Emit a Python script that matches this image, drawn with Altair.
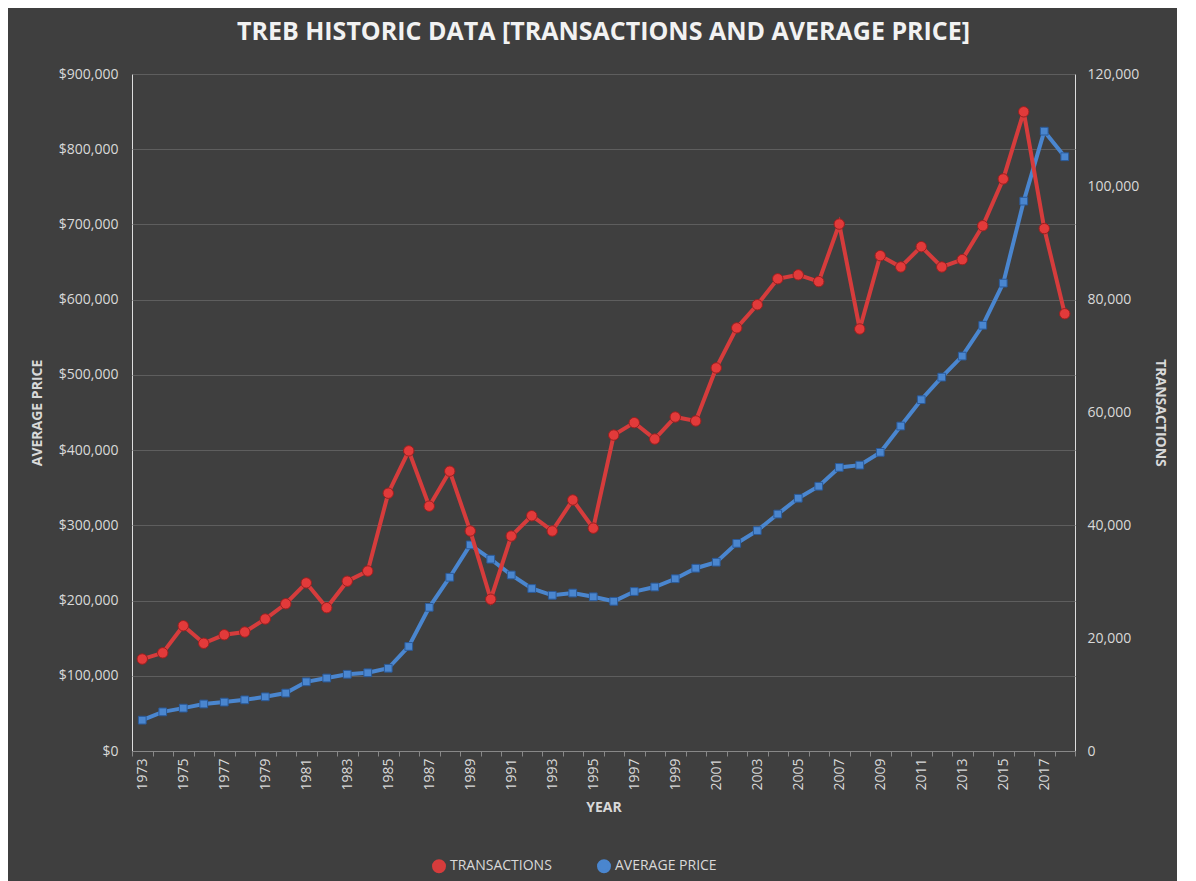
import altair as alt
import pandas as pd

years = list(range(1973, 2019))
transactions = [16300,17400,22200,19100,20600,21100,23400,26100,29800,25400,30100,31900,45700,53200,43400,49600,39000,26900,38100,41700,39000,44500,39500,56000,58200,55300,59200,58500,67900,75000,79100,83700,84400,83200,93400,74800,87800,85800,89400,85800,87100,93100,101400,113300,92600,77500]
avg_price = [41000,52000,57000,62500,65000,68000,72000,77000,92000,97000,102000,104000,110000,139000,191000,231000,274000,255000,234000,216000,207000,210000,205000,199000,212000,218000,229000,243000,251000,276000,293000,315000,336000,352000,377000,380000,397000,432000,467000,497000,525000,566000,622000,731000,824000,790000]

df = pd.DataFrame({"year": [str(y) for y in years], "t": transactions, "p": avg_price})

grid = "#5e5e5e"
txt = "#d9d9d9"
color = alt.Color("series:N", scale=alt.Scale(domain=["TRANSACTIONS", "AVERAGE PRICE"], range=["#d63c3c", "#4a86cf"]),
                  legend=alt.Legend(orient="none", legendX=300, legendY=785, direction="horizontal", title=None,
                                    labelColor=txt, labelFontSize=14, symbolStrokeWidth=3, symbolSize=120, columnPadding=40))

xenc = alt.X("year:O", title="YEAR", sort=None,
             axis=alt.Axis(labelAngle=-90, labelExpr="(toNumber(datum.value) % 2 == 1) ? datum.value : ''",
                           labelColor=txt, titleColor=txt, titleFontSize=14, labelFontSize=14, domainColor="#888", tickColor="#888",
                           tickBand="extent", grid=False, titlePadding=10))

base = alt.Chart(df).encode(x=xenc)

price_y = alt.Y("p:Q", title="AVERAGE PRICE", scale=alt.Scale(domain=[0, 900000]),
                axis=alt.Axis(format="$,.0f", tickCount=9, labelColor=txt, titleColor=txt, titleFontSize=14, labelFontSize=14,
                              gridColor=grid, domain=False, ticks=False, labelPadding=14, titlePadding=14))
trans_y = alt.Y("t:Q", title="TRANSACTIONS", scale=alt.Scale(domain=[0, 120000]),
                axis=alt.Axis(format=",.0f", tickCount=6, orient="right", labelColor=txt, titleColor=txt, titleFontSize=14, labelFontSize=14,
                              grid=False, domain=False, ticks=False, labelPadding=12, titlePadding=14))

price = base.transform_calculate(series="'AVERAGE PRICE'").mark_line(strokeWidth=4, point=alt.OverlayMarkDef(shape="square", size=60, filled=True, fill="#4a86cf", stroke="#2a5a9a", strokeWidth=1)).encode(y=price_y, color=color)
trans = base.transform_calculate(series="'TRANSACTIONS'").mark_line(strokeWidth=4, point=alt.OverlayMarkDef(shape="circle", size=110, filled=True, fill="#e23a3a", stroke="#9a1f1f", strokeWidth=1)).encode(y=trans_y, color=color)

chart = alt.layer(price, trans).resolve_scale(y="independent").properties(
    width=943, height=677,
    background="#3f3f3f",
    padding={"left": 22, "top": 12, "right": 10, "bottom": 10},
    title=alt.Title("TREB HISTORIC DATA [TRANSACTIONS AND AVERAGE PRICE]", color="#f2f2f2", fontSize=25, fontWeight="bold", font="Open Sans", offset=22),
).configure_view(stroke=None).configure(font="Open Sans")

chart.save("out.html", embed_options={"renderer": "svg", "actions": False})
